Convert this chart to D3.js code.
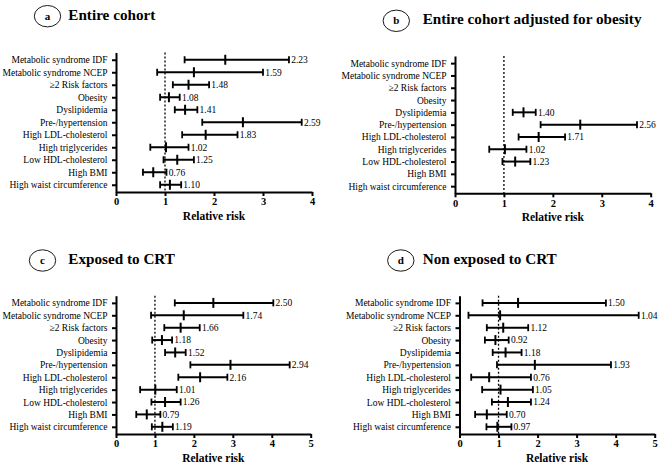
<!DOCTYPE html>
<html>
<head>
<meta charset="utf-8">
<script src="https://cdn.jsdelivr.net/npm/d3@7"></script>
<style>
  html, body { margin: 0; padding: 0; background: #fff; }
  svg { display: block; font-family: "Liberation Serif", "Times New Roman", serif; }
</style>
</head>
<body>
<svg id="chart" width="660" height="466"></svg>
<script>
// ---------- DATA ----------
const categories = [
  "Metabolic syndrome IDF",
  "Metabolic syndrome NCEP",
  "≥2 Risk factors",
  "Obesity",
  "Dyslipidemia",
  "Pre-/hypertension",
  "High LDL-cholesterol",
  "High triglycerides",
  "Low HDL-cholesterol",
  "High BMI",
  "High waist circumference"
];
const panelLetters = ["a", "b", "c", "d"];
const panelTitles = [
  "Entire cohort",
  "Entire cohort adjusted for obesity",
  "Exposed to CRT",
  "Non exposed to CRT"
];
const xTicksTop = [0, 1, 2, 3, 4];
const xTicksBottom = [0, 1, 2, 3, 4, 5];
const xAxisTitle = "Relative risk";

// Panel a: entire cohort
const rrA = [2.23, 1.59, 1.48, 1.08, 1.41, 2.59, 1.83, 1.02, 1.25, 0.76, 1.10];
const loA = [1.40, 0.84, 1.16, 0.90, 1.20, 1.76, 1.35, 0.70, 0.97, 0.55, 0.90];
const hiA = [3.53, 3.00, 1.90, 1.30, 1.66, 3.79, 2.48, 1.48, 1.59, 1.03, 1.33];
// Panel b: adjusted for obesity
const rrB = [null, null, null, null, 1.40, 2.56, 1.71, 1.02, 1.23, null, null];
const loB = [null, null, null, null, 1.18, 1.75, 1.30, 0.70, 0.97, null, null];
const hiB = [null, null, null, null, 1.65, 3.72, 2.25, 1.46, 1.54, null, null];
// Panel c: exposed to CRT
const rrC = [2.50, 1.74, 1.66, 1.18, 1.52, 2.94, 2.16, 1.01, 1.26, 0.79, 1.19];
const loC = [1.51, 0.90, 1.24, 0.93, 1.26, 1.91, 1.60, 0.62, 0.91, 0.52, 0.92];
const hiC = [4.04, 3.27, 2.15, 1.44, 1.79, 4.46, 2.86, 1.56, 1.66, 1.14, 1.46];
// Panel d: non exposed to CRT
const rrD = [1.50, 1.04, 1.12, 0.92, 1.18, 1.93, 0.76, 1.05, 1.24, 0.70, 0.97];
const loD = [0.59, 0.23, 0.70, 0.65, 0.85, 0.96, 0.30, 0.58, 0.83, 0.40, 0.69];
const hiD = [3.75, 4.59, 1.76, 1.26, 1.59, 3.88, 1.83, 1.88, 1.83, 1.21, 1.33];

// ---------- LAYOUT ----------
const panels = [
  { rr: rrA, lo: loA, hi: hiA, ticks: xTicksTop, x0: 116, x1: 312, yTop: 52.5, yBot: 192,
    cx: 47.5, cy: 16.2, tx: 68.3 },
  { rr: rrB, lo: loB, hi: hiB, ticks: xTicksTop, x0: 455, x1: 650.7, yTop: 56, yBot: 193.3,
    cx: 396.3, cy: 20.8, tx: 422.7 },
  { rr: rrC, lo: loC, hi: hiC, ticks: xTicksBottom, x0: 116, x1: 310.7, yTop: 295.7, yBot: 434,
    cx: 42.5, cy: 260.5, tx: 68.3 },
  { rr: rrD, lo: loD, hi: hiD, ticks: xTicksBottom, x0: 459.5, x1: 654.7, yTop: 295.7, yBot: 434,
    cx: 400.8, cy: 260.5, tx: 422.7 }
];

const svg = d3.select("#chart");

panels.forEach((p, i) => {
  const g = svg.append("g");
  const domainMax = p.ticks[p.ticks.length - 1];
  const x = d3.scaleLinear().domain([0, domainMax]).range([p.x0, p.x1]);
  const y = d3.scalePoint().domain(categories).range([p.yTop, p.yBot]).padding(0.58);

  // Title: circled letter + heading
  g.append("ellipse")
    .attr("cx", p.cx).attr("cy", p.cy).attr("rx", 13.2).attr("ry", 10.7)
    .attr("fill", "none").attr("stroke", "#000").attr("stroke-width", 0.9);
  g.append("text")
    .attr("x", p.cx).attr("y", p.cy + 3.6)
    .attr("text-anchor", "middle")
    .attr("font-weight", "bold").attr("font-size", 11)
    .text(panelLetters[i]);
  g.append("text")
    .attr("x", p.tx).attr("y", p.cy + 3.3)
    .attr("font-weight", "bold").attr("font-size", 15.2)
    .text(panelTitles[i]);

  // Reference line at RR = 1
  g.append("line")
    .attr("x1", x(1)).attr("x2", x(1))
    .attr("y1", p.yTop).attr("y2", p.yBot)
    .attr("stroke", "#000").attr("stroke-width", 1.3)
    .attr("stroke-dasharray", "2,2");

  // Y axis
  const yAxis = g.append("g")
    .attr("transform", `translate(${p.x0},0)`)
    .call(d3.axisLeft(y).tickSize(4).tickSizeOuter(0).tickPadding(4.5));
  yAxis.select(".domain").attr("stroke-width", 2);
  yAxis.selectAll(".tick line").attr("stroke-width", 2);
  yAxis.selectAll(".tick text")
    .attr("font-family", "Liberation Serif, serif")
    .attr("font-size", 9.5).attr("fill", "#000");

  // X axis
  const xAxis = g.append("g")
    .attr("transform", `translate(0,${p.yBot})`)
    .call(d3.axisBottom(x).tickValues(p.ticks).tickSize(4).tickSizeOuter(0).tickPadding(2).tickFormat(d3.format("d")));
  xAxis.select(".domain").attr("stroke-width", 2);
  xAxis.selectAll(".tick line").attr("stroke-width", 2);
  xAxis.selectAll(".tick text")
    .attr("font-family", "Liberation Serif, serif")
    .attr("font-weight", "bold")
    .attr("font-size", 10.5).attr("fill", "#000");

  g.append("text")
    .attr("x", (p.x0 + p.x1) / 2).attr("y", p.yBot + 27.5)
    .attr("text-anchor", "middle")
    .attr("font-weight", "bold").attr("font-size", 11.5)
    .text(xAxisTitle);

  // Error bars
  const rows = categories.map((c, k) => ({ c, rr: p.rr[k], lo: p.lo[k], hi: p.hi[k] }))
    .filter(d => d.rr != null);
  const bars = g.append("g").selectAll("g").data(rows).join("g");
  bars.append("line")
    .attr("x1", d => x(d.lo)).attr("x2", d => x(d.hi))
    .attr("y1", d => y(d.c)).attr("y2", d => y(d.c))
    .attr("stroke", "#000").attr("stroke-width", 2);
  bars.append("line")
    .attr("x1", d => x(d.lo)).attr("x2", d => x(d.lo))
    .attr("y1", d => y(d.c) - 3.5).attr("y2", d => y(d.c) + 3.5)
    .attr("stroke", "#000").attr("stroke-width", 1.8);
  bars.append("line")
    .attr("x1", d => x(d.hi)).attr("x2", d => x(d.hi))
    .attr("y1", d => y(d.c) - 3.5).attr("y2", d => y(d.c) + 3.5)
    .attr("stroke", "#000").attr("stroke-width", 1.8);
  bars.append("line")
    .attr("x1", d => x(d.rr)).attr("x2", d => x(d.rr))
    .attr("y1", d => y(d.c) - 5).attr("y2", d => y(d.c) + 5)
    .attr("stroke", "#000").attr("stroke-width", 2);
  bars.append("text")
    .attr("x", d => x(d.hi) + 2.2).attr("y", d => y(d.c) + 3.4)
    .attr("font-size", 9.5)
    .text(d => d.rr.toFixed(2));
});
</script>
</body>
</html>
